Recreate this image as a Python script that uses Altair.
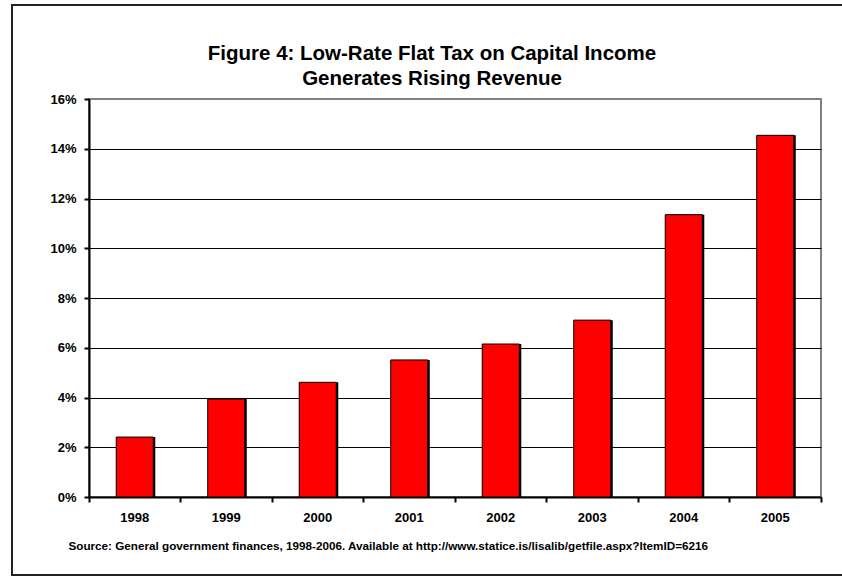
import altair as alt
import pandas as pd

years = ["1998", "1999", "2000", "2001", "2002", "2003", "2004", "2005"]
values = [2.41, 3.94, 4.61, 5.51, 6.15, 7.11, 11.35, 14.54]
y_ticks = [0, 2, 4, 6, 8, 10, 12, 14, 16]
title_lines = ["Figure 4: Low-Rate Flat Tax on Capital Income", "Generates Rising Revenue"]
source_text = "Source: General government finances, 1998-2006. Available at http://www.statice.is/lisalib/getfile.aspx?ItemID=6216"

df = pd.DataFrame({"year": years, "value": values})
FONT = "Liberation Sans"
W, H = 732, 398

x_enc = alt.X(
    "year:N",
    sort=years,
    scale=alt.Scale(paddingInner=0, paddingOuter=0),
    axis=alt.Axis(
        title=source_text,
        titleFont=FONT, titleFontSize=11.7, titleFontWeight="bold", titleColor="black",
        titleAnchor="start", titleAlign="left", titleBaseline="middle",
        titleX=-21, titleY=48,
        labelFont=FONT, labelFontSize=13, labelFontWeight="bold", labelColor="black",
        labelAngle=0, labelBaseline="middle", labelPadding=15,
        bandPosition=1, tickExtra=True,
        tickSize=5, tickColor="black", tickWidth=2,
        domainColor="black", domainWidth=2,
    ),
)
y_enc = alt.Y(
    "value:Q",
    scale=alt.Scale(domain=[0, 16], nice=False),
    axis=alt.Axis(
        title=None, values=y_ticks,
        labelExpr="datum.value + '%'",
        labelFont=FONT, labelFontSize=13, labelFontWeight="bold", labelColor="black",
        labelPadding=8, labelBaseline="middle",
        tickSize=5, tickColor="black", tickWidth=2,
        domainColor="black", domainWidth=2,
        grid=True, gridWidth=1,
        gridColor={"condition": {"test": "datum.value >= 16", "value": "#808080"}, "value": "black"},
    ),
)

shadow = alt.Chart(df).mark_bar(
    width=alt.RelativeBandSize(0.405), color="black", xOffset=2
).encode(x=x_enc, y=y_enc)

bars = alt.Chart(df).mark_bar(
    width=alt.RelativeBandSize(0.405), color="#FF0000", stroke="black", strokeWidth=1
).encode(x=x_enc, y=y_enc)

one = pd.DataFrame({"f": [0]})

frame = alt.Chart(one).mark_rect(
    fill="transparent", stroke="#222222", strokeWidth=2
).encode(
    x=alt.value(-77), x2=alt.value(W + 40), y=alt.value(-94), y2=alt.value(476)
)

title = alt.Chart(one).mark_text(
    font=FONT, fontSize=20.5, fontWeight="bold", color="black",
    align="center", baseline="alphabetic", lineHeight=25,
).encode(
    x=alt.value(343), y=alt.value(-38.7), text=alt.value(title_lines)
)

chart = alt.layer(shadow, bars, frame, title).properties(
    width=W, height=H,
    autosize=alt.AutoSizeParams(type="none"),
    padding={"left": 89, "top": 99, "right": 21, "bottom": 80},
    background="white",
).configure_view(stroke="#808080", strokeWidth=2)

chart.save("out.html", embed_options={"renderer": "svg", "actions": False})
